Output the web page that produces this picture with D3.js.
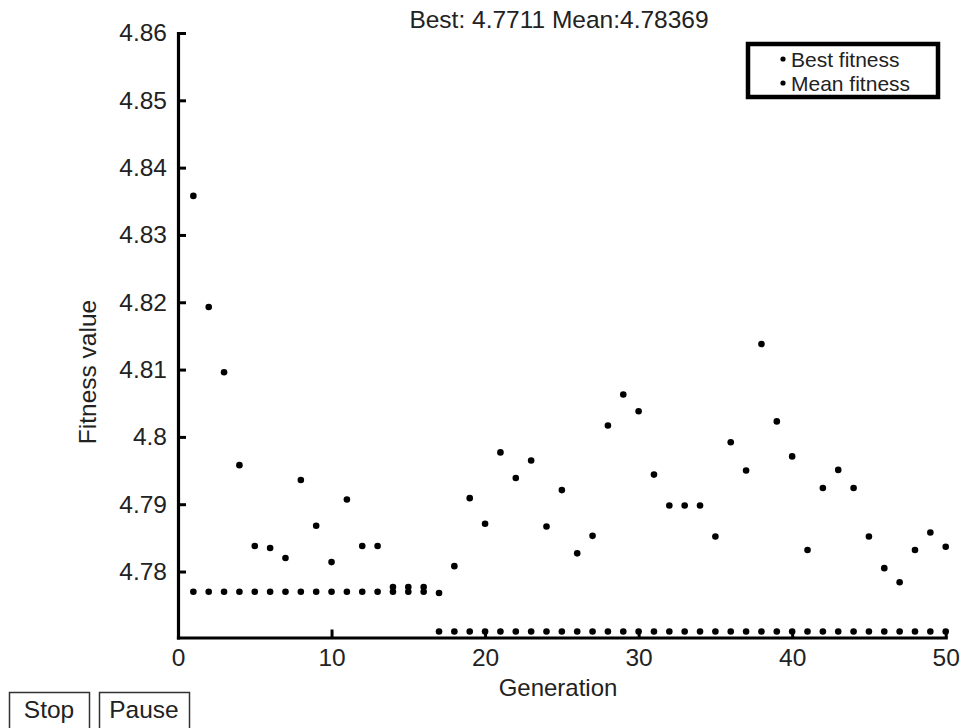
<!DOCTYPE html>
<html>
<head>
<meta charset="utf-8">
<script src="https://cdn.jsdelivr.net/npm/d3@7"></script>
<style>
  html, body { margin: 0; padding: 0; background: #fff; }
  svg { display: block; font-family: "Liberation Sans", Arial, sans-serif; }
</style>
</head>
<body>
<svg id="chart" width="963" height="728"></svg>
<script>
// generations of the GA run
var generations = [1, 2, 3, 4, 5, 6, 7, 8, 9, 10,
	11, 12, 13, 14, 15, 16, 17, 18, 19, 20,
	21, 22, 23, 24, 25, 26, 27, 28, 29, 30,
	31, 32, 33, 34, 35, 36, 37, 38, 39, 40,
	41, 42, 43, 44, 45, 46, 47, 48, 49, 50];

var bestFitness = [4.7770, 4.7770, 4.7770, 4.7770, 4.7770, 4.7770, 4.7770, 4.7770, 4.7770, 4.7770,
	4.7770, 4.7770, 4.7770, 4.7770, 4.7770, 4.7770, 4.7711, 4.7711, 4.7711, 4.7711,
	4.7711, 4.7711, 4.7711, 4.7711, 4.7711, 4.7711, 4.7711, 4.7711, 4.7711, 4.7711,
	4.7711, 4.7711, 4.7711, 4.7711, 4.7711, 4.7711, 4.7711, 4.7711, 4.7711, 4.7711,
	4.7711, 4.7711, 4.7711, 4.7711, 4.7711, 4.7711, 4.7711, 4.7711, 4.7711, 4.7711];

var meanFitness = [4.8358, 4.8193, 4.8096, 4.7958, 4.7838, 4.7835, 4.7820, 4.7936, 4.7868, 4.7814,
	4.7907, 4.7838, 4.7838, 4.7777, 4.7777, 4.7777, 4.7768, 4.7808, 4.7909, 4.7871,
	4.7977, 4.7939, 4.7965, 4.7867, 4.7921, 4.7827, 4.7853, 4.8017, 4.8063, 4.8038,
	4.7944, 4.7898, 4.7898, 4.7898, 4.7852, 4.7992, 4.7950, 4.8138, 4.8023, 4.7971,
	4.7832, 4.7924, 4.7951, 4.7924, 4.7852, 4.7805, 4.7784, 4.7832, 4.7858, 4.78369];

var xTicks = [0, 10, 20, 30, 40, 50];
var yTicks = [4.78, 4.79, 4.80, 4.81, 4.82, 4.83, 4.84, 4.85, 4.86];
var seriesNames = ["Best fitness", "Mean fitness"];
var buttonLabels = ["Stop", "Pause"];

var svg = d3.select("#chart");

var x = d3.scaleLinear().domain([0, 50]).range([178, 945.7]);
var y = d3.scaleLinear().domain([4.7702, 4.86]).range([637.5, 33]);

// title
svg.append("text")
	.attr("x", 559).attr("y", 28)
	.attr("text-anchor", "middle")
	.attr("font-size", 24.5)
	.attr("fill", "#222")
	.text("Best: " + bestFitness[bestFitness.length-1] + " Mean:" + meanFitness[meanFitness.length-1]);

// axes
var xAxis = svg.append("g")
	.attr("transform", "translate(0," + y.range()[0] + ")")
	.call(d3.axisBottom(x).tickValues(xTicks).tickSizeInner(-8).tickSizeOuter(0).tickPadding(11));

var yAxis = svg.append("g")
	.attr("transform", "translate(" + x.range()[0] + ",0)")
	.call(d3.axisLeft(y).tickValues(yTicks)
		.tickFormat(function(d) { return +d.toFixed(2); })
		.tickSizeInner(-8).tickSizeOuter(0).tickPadding(11));

[xAxis, yAxis].forEach(function(a){
	a.select(".domain").attr("stroke", "#000").attr("stroke-width", 3.2).attr("stroke-linecap", "square");
	a.selectAll(".tick line").attr("stroke", "#000").attr("stroke-width", 3);
	a.selectAll(".tick text").attr("font-size", 24.5).attr("fill", "#222")
		.attr("font-family", "Liberation Sans, Arial, sans-serif");
});

// axis labels
svg.append("text")
	.attr("x", 558).attr("y", 696)
	.attr("text-anchor", "middle")
	.attr("font-size", 24).attr("fill", "#222")
	.text("Generation");

svg.append("text")
	.attr("transform", "translate(96,372) rotate(-90)")
	.attr("text-anchor", "middle")
	.attr("font-size", 24.5).attr("fill", "#222")
	.text("Fitness value");

// points
var plot = svg.append("g");
plot.selectAll("circle.best")
	.data(generations)
	.enter().append("circle")
		.attr("class", "best")
		.attr("cx", function(d) { return x(d); })
		.attr("cy", function(d, i) { return y(bestFitness[i]); })
		.attr("r", 3.3)
		.attr("fill", "#000");

plot.selectAll("circle.mean")
	.data(generations)
	.enter().append("circle")
		.attr("class", "mean")
		.attr("cx", function(d) { return x(d); })
		.attr("cy", function(d, i) { return y(meanFitness[i]); })
		.attr("r", 3.3)
		.attr("fill", "#000");

// legend
var legend = svg.append("g");
legend.append("rect")
	.attr("x", 748).attr("y", 44)
	.attr("width", 190).attr("height", 53)
	.attr("fill", "#fff")
	.attr("stroke", "#000").attr("stroke-width", 4.5);

seriesNames.forEach(function(name, i){
	legend.append("circle")
		.attr("cx", 783).attr("cy", 59 + i*24)
		.attr("r", 2.6).attr("fill", "#000");
	legend.append("text")
		.attr("x", 791).attr("y", 67 + i*24)
		.attr("font-size", 21).attr("fill", "#222")
		.text(name);
});

// buttons under the figure
var buttons = svg.append("g");
var bx = [9, 99], bw = [80, 90];
buttonLabels.forEach(function(label, i){
	buttons.append("rect")
		.attr("x", bx[i] + 0.5).attr("y", 692.5)
		.attr("width", bw[i]).attr("height", 40)
		.attr("fill", "#fff")
		.attr("stroke", "#333").attr("stroke-width", 1.5);
	buttons.append("text")
		.attr("x", bx[i] + bw[i]/2).attr("y", 718)
		.attr("text-anchor", "middle")
		.attr("font-size", 24.5).attr("fill", "#222")
		.text(label);
});
</script>
</body>
</html>
